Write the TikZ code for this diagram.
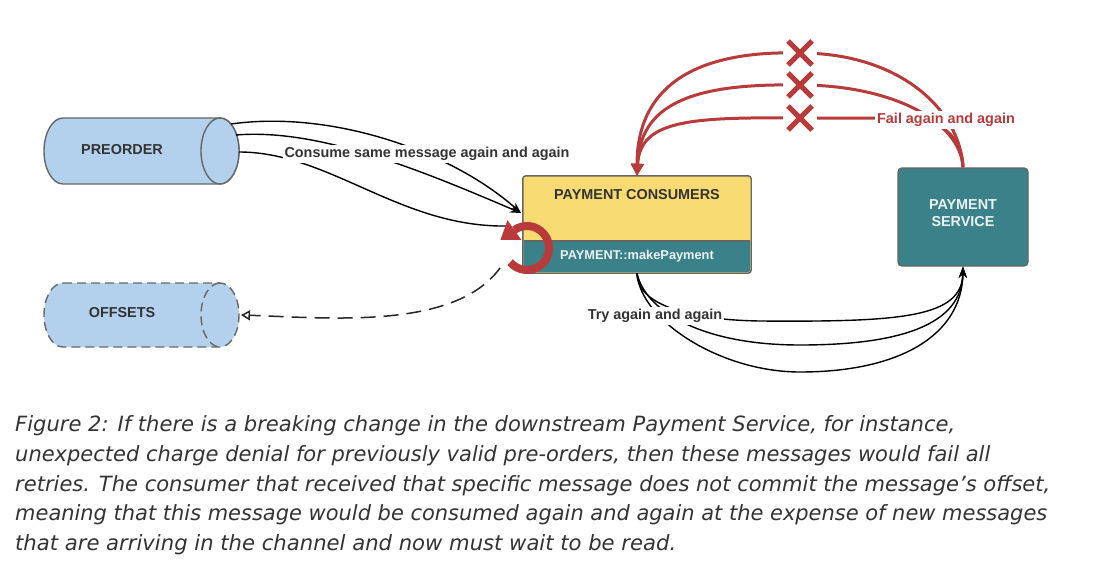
\documentclass[tikz,border=0pt]{standalone}
\usepackage{fontspec}
\setmainfont{Liberation Sans}
\newfontfamily\capfont{DejaVu Sans}
\usetikzlibrary{arrows.meta}
\definecolor{cylblue}{HTML}{B3D1ED}
\definecolor{edgegray}{HTML}{666666}
\definecolor{consyellow}{HTML}{F7DA72}
\definecolor{svcteal}{HTML}{3A8189}
\definecolor{failred}{HTML}{B83A3A}
\definecolor{textgray}{HTML}{333333}
\definecolor{paletext}{HTML}{EAF3F3}
\tikzset{
  lbl/.style={font=\fontsize{14.4}{16}\selectfont\bfseries, text=textgray, inner sep=1pt},
  wlbl/.style={lbl, fill=white, inner sep=2pt},
  cylbody/.style={draw=edgegray, fill=cylblue, line width=1.4pt},
  cyldash/.style={cylbody, dash pattern=on 9pt off 5pt},
  flow/.style={draw=black, line width=1.4pt},
  flowarrow/.style={flow, -{Stealth[length=11pt,width=8pt]}},
  redflow/.style={draw=failred, line width=3pt},
  xbg/.style={fill=white, inner sep=0pt, minimum width=34pt, minimum height=28pt},
  xline/.style={draw=failred, line width=5pt},
  capline/.style={anchor=base west, inner sep=0pt, text=textgray, font=\capfont\itshape\fontsize{21}{24}\selectfont},
}
\begin{document}
\begin{tikzpicture}[x=1pt,y=-1pt]
\useasboundingbox[fill=white] (0,0) rectangle (1096,587);

% ---------- PREORDER cylinder ----------
\path[cylbody] (63,118) -- (220,118) arc[start angle=-90,end angle=90,x radius=19,y radius=33] -- (63,184) arc[start angle=90,end angle=270,x radius=19,y radius=33] -- cycle;
\path[cylbody] (220,151) ellipse[x radius=19,y radius=33];
\node[lbl] (preorder) at (122,150) {PREORDER};
\coordinate (pre1) at (231,124);
\coordinate (pre2) at (236,135);
\coordinate (pre3) at (239,152);

% ---------- OFFSETS cylinder ----------
\path[cyldash] (63,283) -- (220,283) arc[start angle=-90,end angle=90,x radius=19,y radius=32] -- (63,347) arc[start angle=90,end angle=270,x radius=19,y radius=32] -- cycle;
\draw[draw=edgegray, line width=1.4pt, dash pattern=on 9pt off 5pt] (220,283) arc[start angle=-90,end angle=-270,x radius=19,y radius=32];
\node[lbl] (offsets) at (122,313) {OFFSETS};
\coordinate (offe) at (241,315);

% ---------- PAYMENT CONSUMERS ----------
\node[draw=none, fill=consyellow, rounded corners=3pt, minimum width=228pt, minimum height=97pt, inner sep=0pt] (cons) at (637,224.5) {};
\fill[svcteal] (523.7,241) [rounded corners=3pt]-- (523.7,272.3) -- (750.3,272.3) [sharp corners]-- (750.3,241) -- cycle;
\draw[edgegray, line width=1.2pt] (523.7,241) -- (750.3,241);
\draw[draw=edgegray, line width=1.4pt, rounded corners=3pt] (cons.north west) rectangle (cons.south east);
\node[lbl] (constitle) at (637,195) {PAYMENT CONSUMERS};
\node[lbl, text=paletext, font=\fontsize{12.8}{15}\selectfont\bfseries] (make) at (637,256) {PAYMENT::makePayment};
\coordinate (consin) at (521,213);
\coordinate (consin3) at (508,226);

% ---------- PAYMENT SERVICE ----------
\node[draw=edgegray, fill=svcteal, line width=1.4pt, rounded corners=4pt, minimum width=130pt, minimum height=98pt, inner sep=0pt] (ps) at (963,217) {};
\node[text=paletext, font=\fontsize{14.4}{17}\selectfont\bfseries, align=center, inner sep=0pt] (pstext) at (963,213.5) {PAYMENT\\SERVICE};

% ---------- Consume arrows ----------
\draw[flowarrow] (pre1) .. controls (330,110) and (450,150) .. (consin);
\draw[flowarrow] (pre2) .. controls (320,128) and (425,172) .. (consin);
\draw[flow] (pre3) .. controls (330,152) and (400,228) .. (consin3);
\node[wlbl] (consume) at (427,154) {Consume same message again and again};

% ---------- Try again arrows ----------
\draw[flowarrow] (cons.south) .. controls (637,305) and (690,320) .. (760,321) .. controls (900,322) and (962,318) .. (ps.south);
\draw[flowarrow] (cons.south) .. controls (645,310) and (700,345) .. (800,345) .. controls (900,345) and (962,325) .. (ps.south);
\draw[flowarrow] (cons.south) .. controls (640,320) and (720,372) .. (800,372) .. controls (900,372) and (962,335) .. (ps.south);
\node[wlbl] (try) at (655,316) {Try again and again};

% ---------- Fail arrows ----------
\coordinate (x1) at (800,53);
\coordinate (x2) at (800,85);
\coordinate (x3) at (800,118);
\draw[redflow] (ps.north) .. controls (960,110) and (900,53) .. (x1);
\draw[redflow] (ps.north) .. controls (960,120) and (890,85) .. (x2);
\draw[redflow] (ps.north) .. controls (962,135) and (940,118) .. (900,118) -- (x3);
\draw[redflow, -{Triangle[length=12pt,width=12pt]}] (x1) .. controls (690,50) and (637,90) .. (cons.north);
\draw[redflow, -{Triangle[length=12pt,width=12pt]}] (x2) .. controls (690,83) and (640,105) .. (cons.north);
\draw[redflow, -{Triangle[length=12pt,width=12pt]}] (x3) .. controls (690,117) and (640,120) .. (cons.north);
\node[wlbl, text=failred] (fail) at (946,120) {Fail again and again};
\foreach \c in {x1,x2,x3}{
  \node[xbg] (\c bg) at (\c) {};
  \draw[xline] ([shift={(-12,-12)}]\c) -- ([shift={(12,12)}]\c);
  \draw[xline] ([shift={(-12,12)}]\c) -- ([shift={(12,-12)}]\c);
}

% ---------- offsets dashed arrow ----------
\coordinate (loopstart) at (500,268);
\draw[draw=black!85, line width=1.5pt, dash pattern=on 15pt off 8pt, -{Triangle[open,length=9pt,width=10pt]}] (loopstart) .. controls (455,330) and (330,318) .. (offe);

% ---------- red rotate loop ----------
\draw[draw=failred, line width=8pt] (527,248) ++(140:22) arc[start angle=140,end angle=-125,radius=22];
\fill[failred] (521.3,239.8) -- (507.5,220.2) -- (500.5,239.8) -- cycle;

% ---------- caption ----------
\node[capline] (cap1) at (15,431) {\resizebox{940pt}{\height}{Figure 2: If there is a breaking change in the downstream Payment Service, for instance,}};
\node[capline] (cap2) at (15,461) {\resizebox{975pt}{\height}{unexpected charge denial for previously valid pre-orders, then these messages would fail all}};
\node[capline] (cap3) at (15,491) {\resizebox{1035pt}{\height}{retries. The consumer that received that specific message does not commit the message’s offset,}};
\node[capline] (cap4) at (15,520) {\resizebox{1032pt}{\height}{meaning that this message would be consumed again and again at the expense of new messages}};
\node[capline] (cap5) at (15,550) {\resizebox{661pt}{\height}{that are arriving in the channel and now must wait to be read.}};
\end{tikzpicture}
\end{document}
